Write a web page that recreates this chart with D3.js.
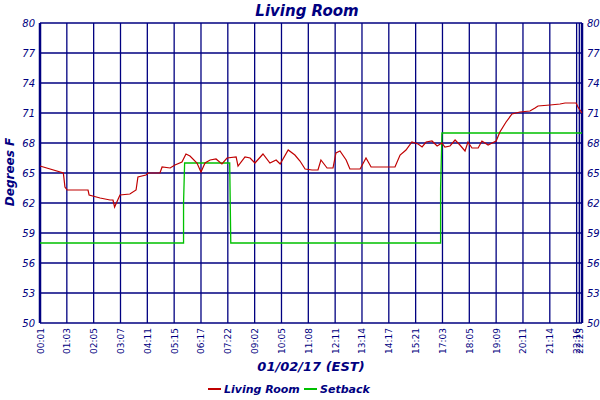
<!DOCTYPE html>
<html><head><meta charset="utf-8">
<script src="https://cdn.jsdelivr.net/npm/d3@7"></script>
<style>body{margin:0;background:#fff}</style></head>
<body><svg id="c" width="600" height="400"></svg>
<script>
const xTickLabels = ["00:01","01:03","02:05","03:07","04:11","05:15","06:17","07:22","09:02","10:05","11:08","12:11","13:14","14:17","15:21","17:03","18:05","19:09","20:11","21:14","22:16","22:23"];
const xTickPos = [0,1,2,3,4,5,6,7,8,9,10,11,12,13,14,15,16,17,18,19,20,20.1];
const yTicks = [50,53,56,59,62,65,68,71,74,77,80];
// living room: [position in tick units, degrees F]
const livingX = [0,0.87,0.93,1.01,1.79,1.83,2.24,2.61,2.72,2.78,2.98,3.35,3.58,3.65,3.95,4.03,4.47,4.55,4.85,5.03,5.29,5.44,5.59,5.85,6.0,6.15,6.34,6.56,6.78,6.97,7.31,7.38,7.64,7.83,8.01,8.31,8.57,8.8,8.95,9.25,9.5,9.69,9.88,10.14,10.36,10.47,10.7,10.92,11.03,11.18,11.41,11.55,11.93,12.15,12.34,13.23,13.42,13.64,13.86,14.09,14.24,14.39,14.61,14.8,14.98,15.09,15.28,15.47,15.65,15.84,15.95,16.1,16.33,16.47,16.7,16.85,17.0,17.14,17.37,17.59,17.89,18.26,18.45,18.56,19.01,19.38,19.57,19.98,20.05,20.2];
const livingY = [65.7,65.0,63.6,63.3,63.3,62.8,62.5,62.3,62.3,61.6,62.8,62.9,63.3,64.6,64.8,65.0,65.0,65.6,65.5,65.8,66.1,66.9,66.7,66.0,65.1,66.0,66.3,66.4,65.9,66.5,66.6,65.7,66.6,66.5,66.0,66.9,66.0,66.3,65.9,67.3,66.8,66.2,65.4,65.3,65.3,66.3,65.5,65.5,67.0,67.2,66.3,65.4,65.4,66.5,65.6,65.6,66.8,67.3,68.1,67.9,67.6,68.1,68.2,67.7,68.0,67.6,67.7,68.3,67.8,67.2,68.1,67.5,67.5,68.2,67.8,68.0,68.2,69.1,70.1,70.9,71.1,71.2,71.5,71.7,71.8,71.9,72.0,72.0,71.6,71.0];
const setbackX = [0,5.35,5.35,5.39,7.07,7.09,7.11,14.93,14.93,14.98,20.2];
const setbackY = [58,58,62,66,66,62,58,58,63.5,69,69];

const svg = d3.select("#c");
const navy = "#000080";
const ff = "'DejaVu Sans', Verdana, sans-serif";
const x = d3.scaleLinear().domain([0,20.2]).range([40,582]);
const y = d3.scaleLinear().domain([50,80]).range([323,23]);
const g = svg.append("g");
yTicks.forEach(v=>g.append("line").attr("x1",40).attr("x2",582).attr("y1",y(v)).attr("y2",y(v)).attr("stroke",navy).attr("stroke-width",1.3));
xTickPos.forEach(v=>g.append("line").attr("x1",x(v)).attr("x2",x(v)).attr("y1",23).attr("y2",323).attr("stroke",navy).attr("stroke-width",1.3));
g.append("line").attr("x1",40).attr("x2",40).attr("y1",23).attr("y2",323).attr("stroke",navy).attr("stroke-width",2.5);
g.append("line").attr("x1",582).attr("x2",582).attr("y1",23).attr("y2",323).attr("stroke",navy).attr("stroke-width",2.5);
yTicks.forEach(v=>{
  g.append("text").attr("x",35).attr("y",y(v)+4).attr("text-anchor","end").attr("font-family",ff).attr("font-style","italic").attr("font-size",10).attr("fill",navy).text(v);
  g.append("text").attr("x",587).attr("y",y(v)+4).attr("font-family",ff).attr("font-style","italic").attr("font-size",10).attr("fill",navy).text(v);
});
xTickPos.forEach((v,i)=>{
  g.append("text").attr("transform",`translate(${x(v)+3.5},328) rotate(-90)`).attr("text-anchor","end").attr("font-family",ff).attr("font-size",9).attr("fill",navy).text(xTickLabels[i]);
});
const line = d3.line().x(d=>x(d[0])).y(d=>y(d[1]));
g.append("path").attr("d",line(setbackX.map((v,i)=>[v,setbackY[i]]))).attr("fill","none").attr("stroke","#00c000").attr("stroke-width",1.3);
g.append("path").attr("d",line(livingX.map((v,i)=>[v,livingY[i]]))).attr("fill","none").attr("stroke","#c00000").attr("stroke-width",1.2);
const tf = {"font-family":ff,"font-style":"italic","font-weight":"bold","fill":navy};
function txt(s,xx,yy,size,anchor){const t=svg.append("text").attr("x",xx).attr("y",yy).attr("font-size",size).attr("text-anchor",anchor||"middle").text(s);for(const k in tf)t.attr(k,tf[k]);return t;}
txt("Living Room",307,16,15);
txt("01/02/17 (EST)",311,371,13);
txt("Degrees F",0,0,12).attr("transform","translate(14,172) rotate(-90)");
svg.append("line").attr("x1",208).attr("x2",221).attr("y1",389).attr("y2",389).attr("stroke","#c00000").attr("stroke-width",2);
txt("Living Room",224,393,11,"start");
svg.append("line").attr("x1",304).attr("x2",317).attr("y1",389).attr("y2",389).attr("stroke","#00c000").attr("stroke-width",2);
txt("Setback",320,393,11,"start");
</script></body></html>
